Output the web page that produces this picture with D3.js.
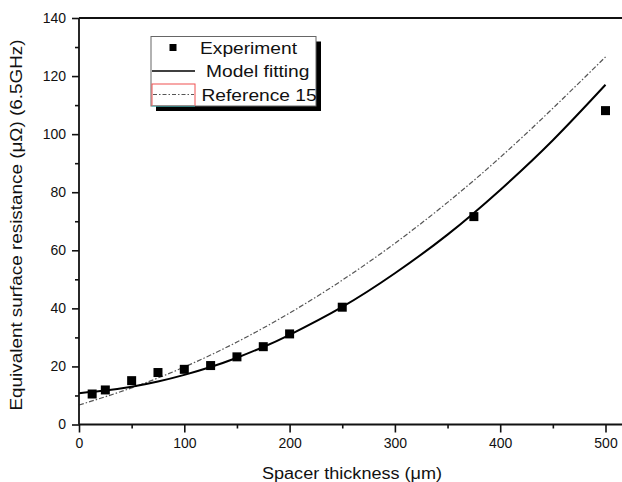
<!DOCTYPE html>
<html><head><meta charset="utf-8">
<script src="https://cdn.jsdelivr.net/npm/d3@7"></script>
<style>
body{margin:0;background:#fff}
svg{display:block}
text{font-family:"Liberation Sans",Arial,sans-serif;fill:#111}
</style></head><body>
<script>
// ---- data ----
const expX = [12.5, 25, 50, 75, 100, 125, 150, 175, 200, 250, 375, 500];
const expY = [10.5, 11.9, 15.1, 17.9, 19.0, 20.3, 23.3, 26.8, 31.2, 40.4, 71.6, 108.1];
const fitX = [0, 25, 50, 75, 100, 125, 150, 175, 200, 250, 300, 350, 400, 450, 500];
const fitY = [10.8, 11.7, 13.0, 14.8, 17.1, 19.8, 23.0, 26.7, 30.9, 40.5, 52.1, 65.4, 80.8, 97.9, 117.0];
const refX = [0, 50, 100, 150, 200, 250, 300, 350, 400, 450, 500];
const refY = [6.7, 12.6, 19.8, 28.4, 38.4, 49.7, 62.4, 76.5, 92.0, 108.9, 126.6];
const xTicks = [0, 100, 200, 300, 400, 500];
const xMinor = [50, 150, 250, 350, 450];
const yTicks = [0, 20, 40, 60, 80, 100, 120, 140];
const yMinor = [10, 30, 50, 70, 90, 110, 130];
const legendLabels = ["Experiment", "Model fitting", "Reference 15"];
const xTitle = "Spacer thickness (\u03bcm)";
const yTitle = "Equivalent surface resistance (\u03bc\u03a9) (6.5GHz)";

// ---- layout ----
const W = 622, H = 482;
const L = 79, R = 622, T = 18, B = 424.5;
const svg = d3.select("body").append("svg").attr("width", W).attr("height", H);
const x = d3.scaleLinear().domain([0, 500]).range([L, 605.5]);
const y = d3.scaleLinear().domain([0, 140]).range([B, T]);

// curves
const line = d3.line().x(d => x(d[0])).y(d => y(d[1])).curve(d3.curveNatural);
const ref = refX.map((v, i) => [v, refY[i]]);
const fit = fitX.map((v, i) => [v, fitY[i]]);
svg.append("path").attr("d", line(ref)).attr("fill", "none")
  .attr("stroke", "#555").attr("stroke-width", 1.2).attr("stroke-dasharray", "5,2,1.5,2");
svg.append("path").attr("d", line(fit)).attr("fill", "none")
  .attr("stroke", "#000").attr("stroke-width", 2);

// points
const sq = 9;
svg.append("g").selectAll("rect").data(expX.map((v, i) => [v, expY[i]])).join("rect")
  .attr("x", d => x(d[0]) - sq / 2).attr("y", d => y(d[1]) - sq / 2)
  .attr("width", sq).attr("height", sq).attr("fill", "#000");

// axes
const ax = svg.append("g");
function style(g) {
  g.select(".domain").remove();
  g.selectAll("line").attr("stroke", "#111").attr("stroke-width", 1.6);
  g.selectAll("text").attr("font-size", 14).attr("fill", "#111")
    .attr("font-family", '"Liberation Sans",Arial,sans-serif');
}
ax.append("g").attr("transform", `translate(0,${B})`)
  .call(d3.axisBottom(x).tickValues(xTicks).tickSize(8).tickPadding(6).tickSizeOuter(0))
  .call(style);
ax.append("g").attr("transform", `translate(0,${B})`)
  .call(d3.axisBottom(x).tickValues(xMinor).tickSize(4).tickFormat("").tickSizeOuter(0))
  .call(style);
ax.append("g").attr("transform", `translate(${L},0)`)
  .call(d3.axisLeft(y).tickValues(yTicks).tickSize(7).tickPadding(6).tickSizeOuter(0))
  .call(style);
ax.append("g").attr("transform", `translate(${L},0)`)
  .call(d3.axisLeft(y).tickValues(yMinor).tickSize(4).tickFormat("").tickSizeOuter(0))
  .call(style);
// frame lines
svg.append("line").attr("x1", L).attr("x2", R).attr("y1", B).attr("y2", B)
  .attr("stroke", "#111").attr("stroke-width", 1.8);
svg.append("line").attr("x1", L).attr("x2", R).attr("y1", T).attr("y2", T)
  .attr("stroke", "#111").attr("stroke-width", 1.8);
svg.append("line").attr("x1", L).attr("x2", L).attr("y1", T).attr("y2", B)
  .attr("stroke", "#111").attr("stroke-width", 1.8);

// axis titles
svg.append("text").attr("transform", `translate(352,479) scale(1.13,1)`)
  .attr("text-anchor", "middle").attr("font-size", 16).text(xTitle);
svg.append("text").attr("transform", `translate(21.5,225) rotate(-90) scale(1.18,1)`)
  .attr("text-anchor", "middle").attr("font-size", 16).text(yTitle);

// legend
const lg = svg.append("g");
const lx0 = 151, ly0 = 36.5, lw = 165, lh = 69.5;
lg.append("rect").attr("x", lx0 + 5).attr("y", ly0 + 5).attr("width", lw).attr("height", lh).attr("fill", "#000");
lg.append("rect").attr("x", lx0).attr("y", ly0).attr("width", lw).attr("height", lh)
  .attr("fill", "#fff").attr("stroke", "#666").attr("stroke-width", 1);
const rowY = [47.5, 71, 94.5];
const textX = [200, 206, 201.5];
lg.append("rect").attr("x", 173 - 3.5).attr("y", rowY[0] - 3.5).attr("width", 7).attr("height", 7).attr("fill", "#000");
lg.append("line").attr("x1", 152).attr("x2", 195).attr("y1", rowY[1]).attr("y2", rowY[1])
  .attr("stroke", "#000").attr("stroke-width", 1.6);
lg.append("rect").attr("x", 152).attr("y", 84).attr("width", 43).attr("height", 21.5)
  .attr("fill", "none").attr("stroke", "#f05050").attr("stroke-width", 1);
lg.append("line").attr("x1", 152).attr("x2", 195).attr("y1", 106).attr("y2", 106)
  .attr("stroke", "#40d0d0").attr("stroke-width", 1.2);
lg.append("line").attr("x1", 153).attr("x2", 194).attr("y1", rowY[2]).attr("y2", rowY[2])
  .attr("stroke", "#555").attr("stroke-width", 1.1).attr("stroke-dasharray", "4,2,1.5,2");
lg.selectAll("text.lab").data(legendLabels).join("text").attr("class", "lab")
  .attr("transform", (d, i) => `translate(${textX[i]},${rowY[i] + 6}) scale(1.2,1)`)
  .attr("font-size", 16).text(d => d);
</script>
</body></html>
